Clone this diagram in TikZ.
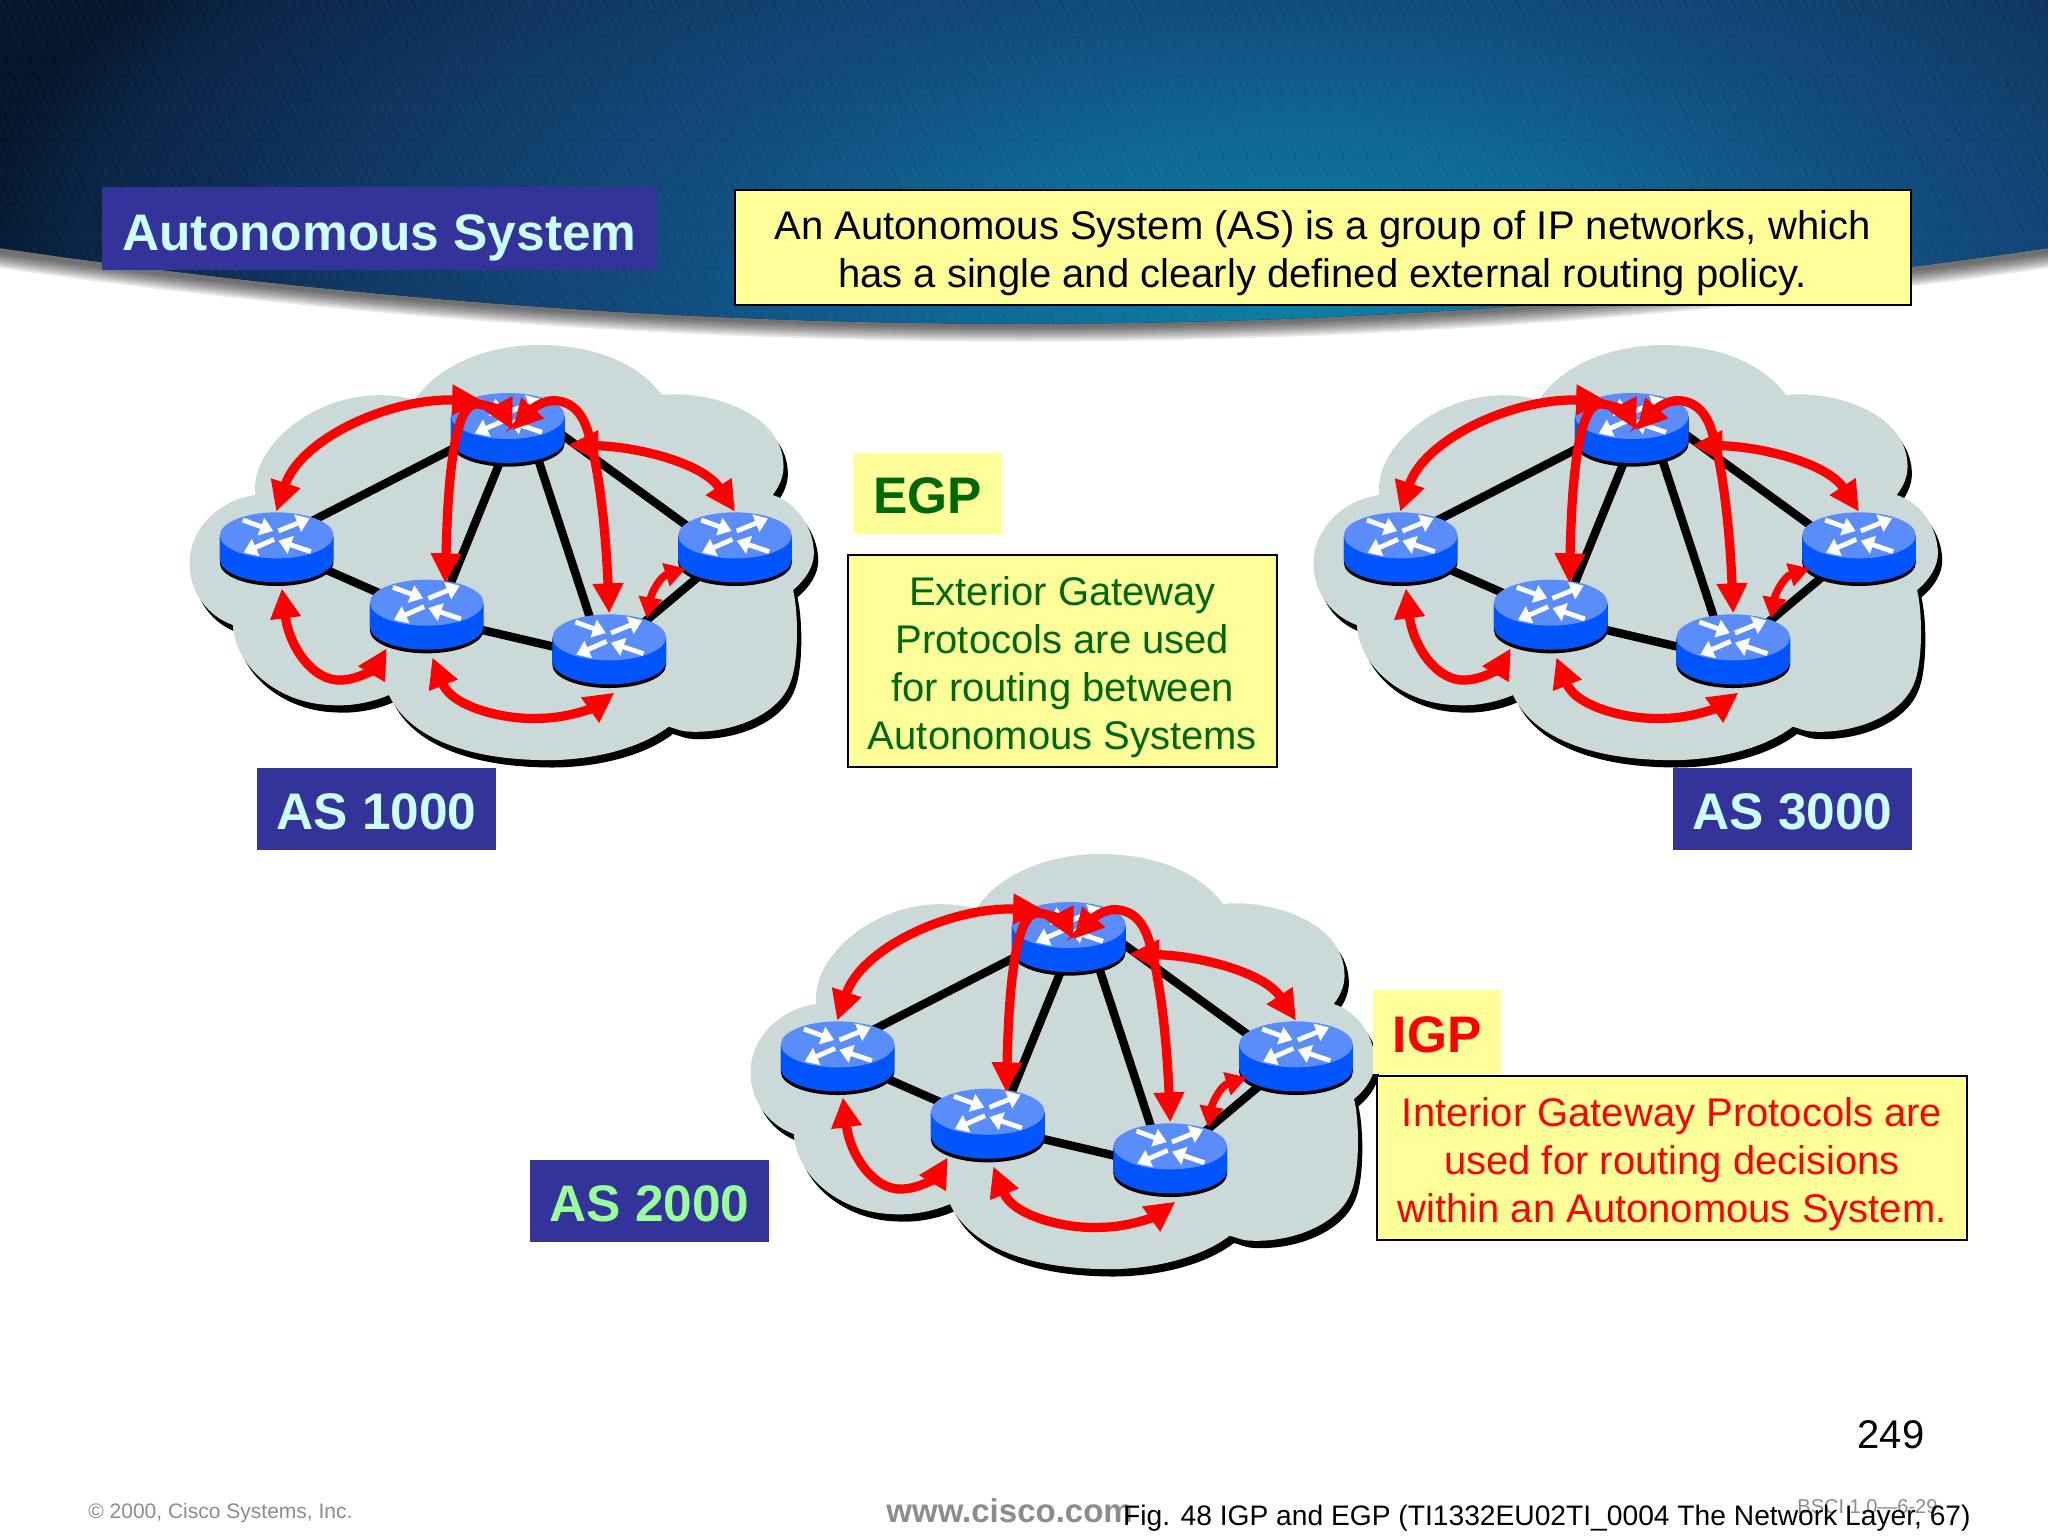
\documentclass[tikz,border=0pt]{standalone}
\usepackage{fontspec}
\setmainfont{Liberation Sans}
\usetikzlibrary{arrows.meta,calc}
\definecolor{navybox}{HTML}{333399}
\definecolor{paleyellow}{HTML}{FFFF99}
\definecolor{cloudgray}{HTML}{CCD9D9}
\definecolor{routertop}{HTML}{5A8CFA}
\definecolor{routerside}{HTML}{0055FF}
\definecolor{arrowred}{HTML}{FF0000}
\definecolor{paleblue}{HTML}{CCFFFF}
\definecolor{palegreen}{HTML}{99FF99}
\definecolor{darkgreen}{HTML}{006600}
\definecolor{footgray}{HTML}{8C8C8C}
\definecolor{bandA}{HTML}{0C80A6}
\definecolor{bandB}{HTML}{0E6A96}
\definecolor{bandC}{HTML}{114C7E}
\definecolor{bandD}{HTML}{103763}
\definecolor{bandE}{HTML}{0A2445}
\definecolor{bandF}{HTML}{06162C}
\pgfdeclareradialshading{bandglow}{\pgfpoint{0bp}{0bp}}{
  color(0bp)=(bandA);
  color(6bp)=(bandB);
  color(12bp)=(bandC);
  color(18bp)=(bandD);
  color(23bp)=(bandE);
  color(25bp)=(bandF);
  color(50bp)=(bandF)}
\newcommand{\drop}[2]{\raisebox{-#1}[\height][\depth]{#2}}
\tikzset{
  navylabel/.style={fill=navybox,inner sep=0pt,font=\bfseries\fontsize{25.7}{30}\selectfont,align=center},
  yellownote/.style={fill=paleyellow,draw=black,line width=1pt,inner sep=0pt,align=center,font=\fontsize{20}{24}\selectfont},
  yellowtag/.style={fill=paleyellow,inner sep=0pt,font=\bfseries\fontsize{25.7}{30}\selectfont},
  link/.style={black,line width=4.2pt},
  redlink/.style={arrowred,line width=4.6pt,{Triangle[length=15pt,width=14.5pt]}-{Triangle[length=15pt,width=14.5pt]}},
  shortlink/.style={arrowred,line width=3.8pt,{Triangle[length=10.5pt,width=11.5pt]}-{Triangle[length=10.5pt,width=11.5pt]}},
  whitetip/.style={white,line width=2.4pt,-{Triangle[length=6.5pt,width=9pt]}},
  routerbase/.style={inner sep=0pt,minimum width=26pt,minimum height=8pt}
}
\newcommand{\routerat}[2]{%
  \begin{scope}[shift={(#1,#2)}]
    \fill[black] (-131,5) -- (-131,83) arc[start angle=180,end angle=0,x radius=131,y radius=69] -- (131,5) -- cycle;
    \fill[routerside] (-131,0) -- (-131,72) arc[start angle=180,end angle=0,x radius=131,y radius=69] -- (131,0) -- cycle;
    \fill[routertop] (0,0) ellipse[x radius=131,y radius=69];
    \draw[whitetip] (-78,-46) -- (-8,-13);
    \draw[whitetip] (4,-13) -- (76,-51);
    \draw[whitetip] (-6,12) -- (-76,52);
    \draw[whitetip] (79,49) -- (4,16);
  \end{scope}}
\newcommand{\cloudpath}{(565,210) .. controls (620,100) and (740,45) .. (850,45) .. controls (980,45) and (1080,100) .. (1135,195) .. controls (1230,180) and (1415,240) .. (1415,410) .. controls (1415,440) and (1405,470) .. (1390,495) .. controls (1450,520) and (1485,600) .. (1485,670) .. controls (1485,710) and (1465,750) .. (1437,780) .. controls (1450,850) and (1450,1000) .. (1430,1060) .. controls (1400,1160) and (1290,1210) .. (1200,1205) .. controls (1180,1205) and (1165,1195) .. (1150,1190) .. controls (1080,1260) and (960,1295) .. (850,1290) .. controls (680,1285) and (550,1220) .. (505,1095) .. controls (470,1115) and (420,1130) .. (370,1125) .. controls (250,1120) and (150,1010) .. (145,885) .. controls (90,860) and (45,790) .. (45,700) .. controls (45,600) and (110,510) .. (197,495) .. controls (180,340) and (370,140) .. (565,210) -- cycle}
\newcommand{\netw}[3]{%
  \begin{scope}[shift={(170+#2,330+#3)},x=0.2168pt,y=-0.16667pt,name prefix=#1-]
    \begin{scope}[shift={(10,22)}]\fill[black] \cloudpath;\end{scope}
    \fill[cloudgray] \cloudpath;
    \node[routerbase] (RA) at (779,258) {};
    \node[routerbase] (RB) at (246,616) {};
    \node[routerbase] (RC) at (592,818) {};
    \node[routerbase] (RD) at (1013,922) {};
    \node[routerbase] (RE) at (1303,616) {};
    \draw[link] ([shift={(-42,42)}]RA.center) -- ([shift={(-49,44)}]RB.center);
    \draw[link] ([shift={(12,42)}]RA.center) -- ([shift={(24,42)}]RC.center);
    \draw[link] ([shift={(48,42)}]RA.center) -- ([shift={(-20,38)}]RD.center);
    \draw[link] ([shift={(110,42)}]RA.center) -- ([shift={(-34,44)}]RE.center);
    \draw[link] ([shift={(0,38)}]RB.center) -- ([shift={(0,34)}]RC.center);
    \draw[link] ([shift={(0,43)}]RC.center) -- ([shift={(0,67)}]RD.center);
    \draw[link] ([shift={(0,43)}]RD.center) -- ([shift={(0,32)}]RE.center);
    \routerat{246}{616}
    \routerat{592}{818}
    \routerat{1303}{616}
    \routerat{1013}{922}
    \routerat{779}{258}
    \draw[redlink] ([shift={(-1,-71)}]RB.center) .. controls (300,330) and (500,205) .. ([shift={(-59,-46)}]RA.center);
    \draw[redlink] ([shift={(43,-58)}]RC.center) .. controls (640,500) and (650,210) .. (710,222) .. controls (745,228) and (770,250) .. ([shift={(11,42)}]RA.center);
    \draw[redlink] ([shift={(0,-72)}]RD.center) .. controls (1005,600) and (990,420) .. (965,310) .. controls (950,240) and (920,210) .. (880,212) .. controls (850,215) and (825,250) .. ([shift={(11,42)}]RA.center);
    \draw[redlink] ([shift={(139,87)}]RA.center) .. controls (1080,350) and (1230,400) .. ([shift={(0,-71)}]RE.center);
    \draw[redlink] ([shift={(12,159)}]RB.center) .. controls (275,950) and (330,1055) .. (395,1050) .. controls (440,1048) and (475,1010) .. ([shift={(-92,137)}]RC.center);
    \draw[redlink] ([shift={(13,164)}]RC.center) .. controls (650,1130) and (770,1170) .. (850,1165) .. controls (920,1165) and (980,1130) .. ([shift={(12,166)}]RD.center);
    \draw[shortlink] ([shift={(87,-57)}]RD.center) .. controls (1110,790) and (1130,740) .. ([shift={(-113,99)}]RE.center);
  \end{scope}}
\begin{document}
\begin{tikzpicture}[x=0.5pt,y=-0.5pt]
\useasboundingbox (0,0) rectangle (2048,1536);
\fill[white] (0,0) rectangle (2048,1536);
% header shadow
\foreach \w in {34,30,26,22,18,14,10,6}{
  \draw[black,opacity=.095,line width=\w*0.5pt] (-20,248) .. controls (680,350) and (1368,350) .. (2068,248);
}
% header band
\begin{scope}
  \clip (-20,0) -- (-20,245) .. controls (680,350) and (1368,350) .. (2068,245) -- (2068,0) -- cycle;
  \fill[bandF] (-20,0) rectangle (2068,400);
  \shade[shading=bandglow] (1300,290) ellipse[x radius=1340,y radius=600];
  \foreach \s in {-240,-232,...,2048}{
    \draw[white,opacity=.045,line width=.5pt,dash pattern=on 5pt off 2pt] (\s,0) -- (\s+150,350);
  }
  \foreach \s in {-240,-228,...,2048}{
    \draw[black,opacity=.05,line width=.5pt,dash pattern=on 7pt off 3pt] (\s+4,0) -- (\s+154,350);
  }
\end{scope}
% title row
\node[navylabel,text=paleblue,minimum width=277.5pt,minimum height=41.5pt] (title) at (379.5,228.5) {\drop{4.5pt}{Autonomous System}};
\node[yellownote,minimum width=588pt,minimum height=57.5pt] (def) at (1322.5,247) {\drop{3.3pt}{An Autonomous System (AS) is a group of IP networks, which}\\\drop{3.3pt}{has a single and clearly defined external routing policy.}};
% networks
\netw{one}{0}{0}
\netw{three}{1124}{0}
\netw{two}{561}{509}
% labels
\node[navylabel,text=paleblue,minimum width=119.5pt,minimum height=41pt] (as1) at (376.5,809) {\drop{1.3pt}{AS 1000}};
\node[navylabel,text=paleblue,minimum width=119.5pt,minimum height=41pt] (as3) at (1792.5,809) {\drop{1.3pt}{AS 3000}};
\node[navylabel,text=palegreen,minimum width=119.5pt,minimum height=41pt] (as2) at (649.5,1201) {\drop{1.3pt}{AS 2000}};
\node[yellowtag,text=darkgreen,minimum width=74.5pt,minimum height=40.5pt] (egp) at (927.5,493.5) {\drop{1.3pt}{EGP}};
\node[yellownote,text=darkgreen,minimum width=214.5pt,minimum height=106pt] (egpnote) at (1062.5,661) {\drop{3.3pt}{Exterior Gateway}\\\drop{3.3pt}{Protocols are used}\\\drop{3.3pt}{for routing between}\\\drop{3.3pt}{Autonomous Systems}};
\node[yellowtag,text=arrowred,minimum width=64pt,minimum height=42pt] (igp) at (1437,1032) {\drop{1.3pt}{IGP}};
\node[yellownote,text=arrowred,minimum width=295pt,minimum height=82pt] (igpnote) at (1672,1158) {\drop{3.3pt}{Interior Gateway Protocols are}\\\drop{3.3pt}{used for routing decisions}\\\drop{3.3pt}{within an Autonomous System.}};
\node[inner sep=0pt,font=\fontsize{20}{24}\selectfont] (page) at (1891,1435) {249};
\node[inner sep=0pt,anchor=west,text=footgray,font=\fontsize{10.5}{13}\selectfont] (copy) at (88,1513) {© 2000, Cisco Systems, Inc.};
\node[inner sep=0pt,anchor=west,text=footgray,font=\bfseries\fontsize{16.5}{19}\selectfont] (www) at (886,1511) {www.cisco.com};
\node[inner sep=0pt,anchor=west,text=footgray,font=\fontsize{10}{12}\selectfont] (bsci) at (1797,1507) {BSCI 1.0—6-29};
\node[inner sep=0pt,anchor=east,font=\fontsize{14.1}{18}\selectfont] (fig) at (1971,1518) {Fig. 48 IGP and EGP (TI1332EU02TI\_0004 The Network Layer, 67)};
\end{tikzpicture}
\end{document}
